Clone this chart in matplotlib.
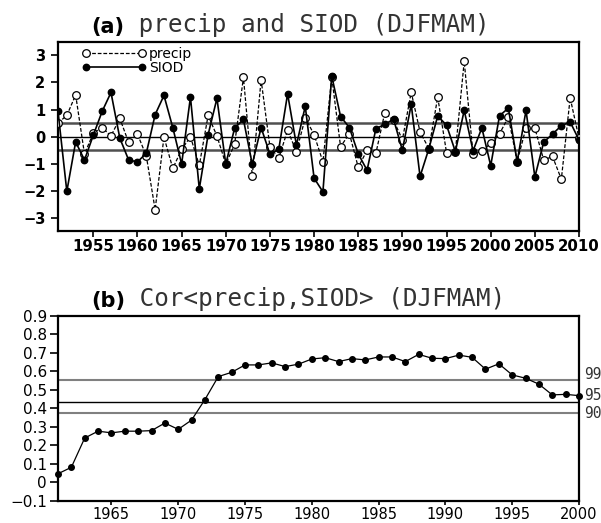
import numpy as np
import matplotlib
matplotlib.use('Agg')
import matplotlib.pyplot as plt

# ---------------------------------------------------------------
# Data
# ---------------------------------------------------------------
years_a = np.arange(1951, 2011)
precip = [0.50, 0.78, 1.54, -0.65, 0.13, 0.33, 0.02, 0.67, -0.22, 0.09,
          -0.72, -2.71, -0.02, -1.18, -0.48, -0.01, -1.07, 0.78, 0.02, -1.02,
          -0.29, 2.19, -1.45, 2.10, -0.38, -0.80, 0.23, -0.56, 0.69, 0.07,
          -0.94, 2.20, -0.38, 0.11, -1.14, -0.51, -0.62, 0.87, 0.60, -0.12,
          1.64, 0.17, -0.45, 1.46, -0.60, -0.56, 2.78, -0.64, -0.55, -0.25,
          0.10, 0.72, -0.93, 0.33, 0.31, -0.87, -0.74, -1.58, 1.43, -0.07]
siod = [0.93, -2.03, -0.20, -0.87, 0.05, 0.93, 1.63, -0.06, -0.87, -0.94,
        -0.62, 0.81, 1.52, 0.33, -1.02, 1.46, -1.94, 0.07, 1.41, -1.02,
        0.31, 0.63, -1.03, 0.33, -0.65, -0.48, 1.58, -0.32, 1.12, -1.54,
        -2.05, 2.24, 0.74, 0.33, -0.64, -1.25, 0.29, 0.45, 0.64, -0.51,
        1.19, -1.48, -0.45, 0.76, 0.42, -0.56, 0.97, -0.53, 0.32, -1.08,
        0.77, 1.05, -0.93, 0.97, -1.50, -0.21, 0.09, 0.40, 0.54, -0.13]
ref_lines_a = [-0.5, 0.0, 0.5]
xticks_a = list(range(1955, 2011, 5))
yticks_a = [-3, -2, -1, 0, 1, 2, 3]

years_b = np.arange(1961, 2001)
cor = [0.046, 0.081, 0.239, 0.276, 0.267, 0.276, 0.276, 0.279, 0.320, 0.286,
       0.336, 0.447, 0.571, 0.594, 0.634, 0.634, 0.645, 0.625, 0.638, 0.666,
       0.673, 0.652, 0.668, 0.661, 0.677, 0.677, 0.652, 0.691, 0.670, 0.668,
       0.687, 0.675, 0.611, 0.640, 0.580, 0.562, 0.530, 0.472, 0.475, 0.468]
sig_levels = [0.551, 0.433, 0.373]
sig_labels = ['99', '95', '90']
xticks_b = list(range(1965, 2001, 5))
yticks_b = [-0.1, 0, 0.1, 0.2, 0.3, 0.4, 0.5, 0.6, 0.7, 0.8, 0.9]
yticklabels_b = ['\u22120.1', '0', '0.1', '0.2', '0.3', '0.4', '0.5',
                 '0.6', '0.7', '0.8', '0.9']

MONO = 'DejaVu Sans Mono'

fig = plt.figure(figsize=(6.01, 5.23), dpi=100)
ax1 = fig.add_axes([0.0965, 0.5583, 0.8669, 0.3614])
ax2 = fig.add_axes([0.0965, 0.0425, 0.8669, 0.3539])

for ax in (ax1, ax2):
    for s in ax.spines.values():
        s.set_linewidth(1.6)


def panel_title(ax, tag, text, y):
    t = ax.text(0.063, y, tag, transform=ax.transAxes, fontsize=15,
                fontweight='bold', va='baseline', ha='left')
    ax.annotate(' ' + text, xy=(1, 0), xycoords=t, va='bottom', ha='left',
                fontsize=17.5, family=MONO, color='#333333')


# -------------------- panel (a) --------------------
for v in ref_lines_a:
    if v == 0:
        ax1.axhline(v, color='black', lw=1.0, zorder=1)
    else:
        ax1.axhline(v, color='#505050', lw=1.8, zorder=1)

ax1.plot(years_a, precip, color='black', ls=(0, (3, 1.5)), lw=0.9,
         marker='o', ms=5.5, mfc='white', mec='black', mew=0.9,
         label='precip', zorder=3)
ax1.plot(years_a, siod, color='black', ls='-', lw=1.2,
         marker='o', ms=4.6, mfc='black', mec='black',
         label='SIOD', zorder=4)

ax1.set_xlim(1951, 2010)
ax1.set_ylim(-3.5, 3.5)
ax1.set_xticks(xticks_a)
ax1.set_yticks(yticks_a)
ax1.set_yticklabels([str(v).replace('-', '\u2212') for v in yticks_a])
ax1.tick_params(axis='x', direction='out', length=4, width=1.2, pad=2,
                labelsize=10.8)
ax1.tick_params(axis='y', direction='out', length=5, width=1.2, pad=4,
                labelsize=10.5)
for lab in ax1.get_xticklabels() + ax1.get_yticklabels():
    lab.set_fontweight('bold')

leg = ax1.legend(loc='upper left', bbox_to_anchor=(0.028, 1.025),
                 frameon=False, numpoints=2, handlelength=4.6,
                 handletextpad=0.2, labelspacing=0.0, borderpad=0.2,
                 fontsize=10)

panel_title(ax1, '(a)', 'precip and SIOD (DJFMAM)', 1.05)

# -------------------- panel (b) --------------------
sig_colors = ['#808080', 'black', '#808080']
sig_widths = [1.5, 1.0, 1.5]
sig_text_shift = [4, 5, 0]  # points, keeps the three labels apart
for lev, lab, c, w, dy in zip(sig_levels, sig_labels, sig_colors,
                               sig_widths, sig_text_shift):
    ax2.axhline(lev, color=c, lw=w, zorder=1)
    ax2.annotate(lab, xy=(1.0, lev), xycoords=ax2.get_yaxis_transform(),
                 xytext=(4, dy), textcoords='offset points',
                 va='center', ha='left', fontsize=10.5, family=MONO,
                 color='#333333', annotation_clip=False)

ax2.plot(years_b, cor, color='black', lw=0.9, marker='o', ms=4,
         mfc='black', mec='black', zorder=3, clip_on=False)

ax2.set_xlim(1961, 2000)
ax2.set_ylim(-0.1, 0.9)
ax2.set_xticks(xticks_b)
ax2.set_yticks(yticks_b)
ax2.set_yticklabels(yticklabels_b)
ax2.tick_params(axis='x', direction='out', length=3, width=1.2, pad=1.5,
                labelsize=10.5)
ax2.tick_params(axis='y', direction='out', length=6, width=1.2, pad=2,
                labelsize=11)

panel_title(ax2, '(b)', 'Cor<precip,SIOD> (DJFMAM)', 1.045)

fig.savefig('out.png', dpi=100)
